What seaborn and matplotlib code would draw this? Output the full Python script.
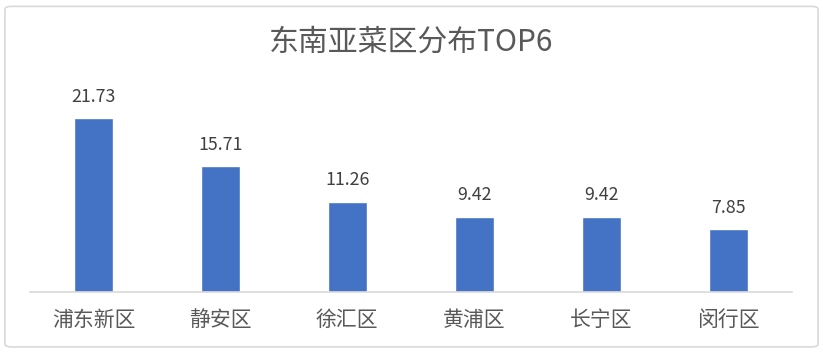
import matplotlib
matplotlib.use("Agg")
import matplotlib.pyplot as plt
from matplotlib.patches import FancyBboxPatch
import seaborn as sns
import pandas as pd

# data
districts = ["浦东新区", "静安区", "徐汇区", "黄浦区", "长宁区", "闵行区"]
values = [21.73, 15.71, 11.26, 9.42, 9.42, 7.85]
title = "东南亚菜区分布TOP6"

df = pd.DataFrame({"district": districts, "value": values})

sns.set_style("white")
plt.rcParams["font.family"] = ["Noto Sans CJK SC", "DejaVu Sans"]

fig = plt.figure(figsize=(8.23, 3.54), dpi=100)
ax = fig.add_axes([0.0365, 0.175, 0.9255, 0.565])

sns.barplot(data=df, x="district", y="value", color="#4472C4", width=0.31,
            saturation=1, ax=ax)

ax.bar_label(ax.containers[0], labels=[f"{v:.2f}" for v in values],
             padding=9, fontsize=12.8, color="#404040")

ax.set_ylim(0, 25)
ax.set_xlabel("")
ax.set_ylabel("")
ax.set_yticks([])
for s in ["top", "right", "left"]:
    ax.spines[s].set_visible(False)
ax.spines["bottom"].set_color("#D9D9D9")
ax.spines["bottom"].set_linewidth(1.2)
ax.tick_params(axis="x", length=0, pad=12, labelsize=15, labelcolor="#595959")

fig.text(0.5, 0.88, title, ha="center", va="center", fontsize=21.5, color="#595959")

# chart border
border = FancyBboxPatch((0.006, 0.02), 0.988, 0.962, transform=fig.transFigure,
                        boxstyle="round,pad=0,rounding_size=0.008",
                        fill=False, edgecolor="#D9D9D9", linewidth=1.2)
fig.patches.append(border)

fig.savefig("out.png", dpi=100)
